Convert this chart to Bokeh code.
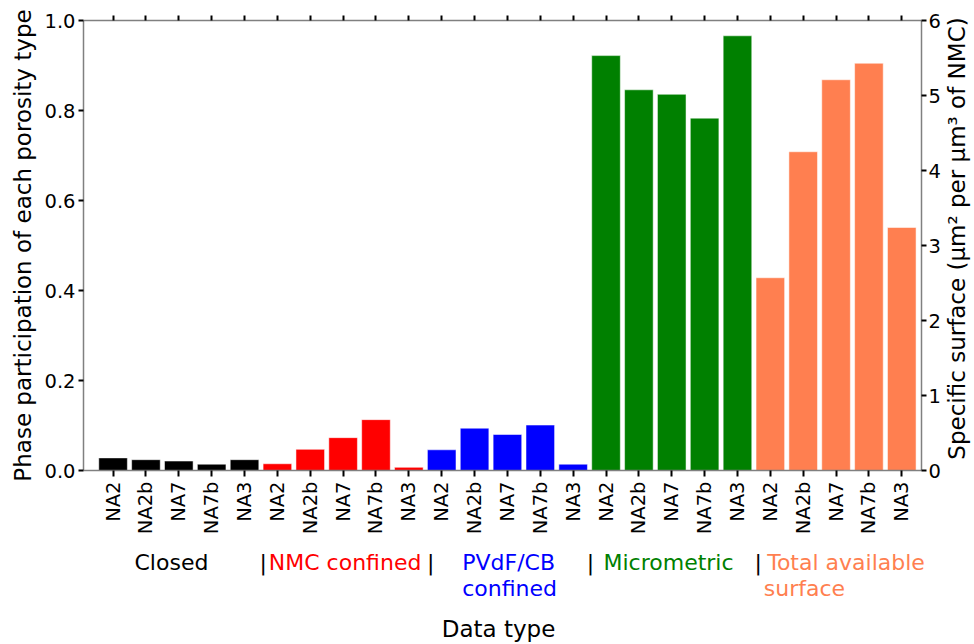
import math
from bokeh.plotting import figure
from bokeh.layouts import column, row
from bokeh.models import (Range1d, LinearAxis, FixedTicker, ColumnDataSource)
from bokeh.core.properties import value
from bokeh.embed import file_html
from bokeh.resources import INLINE

samples = ["NA2", "NA2b", "NA7", "NA7b", "NA3"]
groups = ["Closed", "NMC confined", "PVdF/CB\nconfined", "Micrometric", "Total available\nsurface"]
group_colors = ["black", "red", "blue", "green", "coral"]

closed = [0.028, 0.024, 0.021, 0.014, 0.024]
nmc_confined = [0.015, 0.047, 0.073, 0.113, 0.007]
pvdf_cb_confined = [0.046, 0.094, 0.080, 0.101, 0.014]
micrometric = [0.922, 0.846, 0.836, 0.783, 0.966]
total_surface = [2.57, 4.25, 5.21, 5.43, 3.24]   # right axis, µm² per µm³ of NMC
right_axis_title = "Specific surface (µm² per µm³ of NMC)"
x_axis_title = "Data type"

FONT = "DejaVu Sans"
SPINE = "#808080"
XR = Range1d(-0.9, 24.6)
W, H = 974, 644

# ---------------- main chart ----------------
P_LEFT, P_RIGHT, P_TOP, P_BOTTOM = 83, 22, 20, 70
p = figure(frame_width=838, frame_height=450,
           x_range=XR, y_range=Range1d(0, 1.0),
           output_backend="svg", toolbar_location=None,
           min_border_left=P_LEFT, min_border_right=P_RIGHT, min_border_top=P_TOP,
           min_border_bottom=P_BOTTOM)
p.extra_y_ranges = {"surf": Range1d(0, 6)}
p.xgrid.visible = False
p.ygrid.visible = False
p.outline_line_color = None

left_series = [closed, nmc_confined, pvdf_cb_confined, micrometric]
xs, tops, cols = [], [], []
for g, vals in enumerate(left_series):
    for i, v in enumerate(vals):
        xs.append(g * 5 + i)
        tops.append(v)
        cols.append(group_colors[g])
src = ColumnDataSource(dict(x=xs, top=tops, color=cols))
p.vbar(x="x", top="top", bottom=0, width=0.87, fill_color="color",
       line_color="white", line_alpha=0.5, line_width=1, source=src)

src2 = ColumnDataSource(dict(x=[20 + i for i in range(5)], top=total_surface))
p.vbar(x="x", top="top", bottom=0, width=0.87, fill_color=group_colors[4],
       line_color="white", line_alpha=0.5, line_width=1, source=src2,
       y_range_name="surf")

ticks = list(range(25))
labels = {i: samples[i % 5] for i in ticks}

def style(ax):
    ax.axis_line_color = SPINE
    ax.axis_line_width = 1.5
    ax.major_tick_line_color = "black"
    ax.major_tick_line_width = 2
    ax.major_tick_in = 0
    ax.major_tick_out = 5
    ax.minor_tick_line_color = None
    ax.major_label_text_font = FONT
    ax.major_label_text_font_size = "19.5px"
    ax.major_label_text_color = "black"
    ax.axis_label_text_font = FONT
    ax.axis_label_text_font_size = "23px"
    ax.axis_label_text_font_style = "normal"
    ax.axis_label_text_color = "black"

xa = p.xaxis[0]
style(xa)
xa.ticker = FixedTicker(ticks=ticks)
xa.major_label_overrides = labels
xa.major_label_orientation = math.pi / 2
xa.major_tick_out = 6

ya = p.yaxis[0]
style(ya)
ya.ticker = FixedTicker(ticks=[0, 0.2, 0.4, 0.6, 0.8, 1.0])
ya.major_label_overrides = {0: "0.0", 0.2: "0.2", 0.4: "0.4", 0.6: "0.6", 0.8: "0.8", 1.0: "1.0"}
ya.axis_label = "Phase participation of each porosity type"
ya.major_label_standoff = 3
ya.axis_label_standoff = 5

ra = LinearAxis(y_range_name="surf", ticker=FixedTicker(ticks=[0, 1, 2, 3, 4, 5, 6]))
style(ra)
ra.major_label_standoff = 2
p.add_layout(ra, "right")

ta = LinearAxis(ticker=FixedTicker(ticks=ticks))
style(ta)
ta.major_label_overrides = {i: "" for i in ticks}
ta.major_label_standoff = 0
p.add_layout(ta, "above")

P_W = P_LEFT + 838 + P_RIGHT
P_H = P_TOP + 450 + P_BOTTOM

# ---------------- caption strip: group names and the x-axis title ----------------
CAP_H = H - P_H
c = figure(frame_width=P_W - P_LEFT, frame_height=CAP_H, x_range=Range1d(P_LEFT, P_W),
           y_range=Range1d(0, CAP_H),
           output_backend="svg", toolbar_location=None,
           x_axis_location=None, y_axis_location=None,
           min_border_left=P_LEFT, min_border_right=0, min_border_top=0,
           min_border_bottom=0)
c.xgrid.visible = False
c.ygrid.visible = False
c.outline_line_color = None

def page_y(py):
    return H - py

line1, line2 = page_y(562), page_y(588)
cap_text = [groups[0], groups[1], "PVdF/CB", "confined", groups[3], "Total available", "surface"]
cap_px = [134, 268.3, 461.7, 461.7, 603, 766.7, 763.3]
cap_y = [line1, line1, line1, line2, line1, line1, line2]
cap_col = [group_colors[0], group_colors[1], group_colors[2], group_colors[2],
           group_colors[3], group_colors[4], group_colors[4]]
csrc = ColumnDataSource(dict(x=cap_px, y=cap_y, text=cap_text, color=cap_col))
c.text(x="x", y="y", text="text", text_color="color", source=csrc,
       text_font=value(FONT), text_font_size=value("22px"),
       text_align="left", text_baseline="middle")

sep_px = [262.7, 430.3, 590, 757.7]
ssrc = ColumnDataSource(dict(x=sep_px, y=[line1] * 4, text=["|"] * 4))
c.text(x="x", y="y", text="text", text_color="black", source=ssrc,
       text_font=value(FONT), text_font_size=value("22px"),
       text_align="center", text_baseline="middle")

c.text(x=[498], y=[page_y(628)], text=[x_axis_title], text_color="black",
       text_font=value(FONT), text_font_size=value("23px"),
       text_align="center", text_baseline="middle")

# ---------------- right axis title strip (reads bottom-to-top) ----------------
R_W = W - P_W
r = figure(width=R_W, height=H, x_range=Range1d(0, R_W), y_range=Range1d(0, H),
           output_backend="svg", toolbar_location=None,
           x_axis_location=None, y_axis_location=None, min_border=0)
r.xgrid.visible = False
r.ygrid.visible = False
r.outline_line_color = None
r.text(x=[956 - P_W], y=[H - 238], text=[right_axis_title], angle=math.pi / 2,
       text_font=value(FONT), text_font_size=value("23px"), text_color="black",
       text_align="center", text_baseline="middle")

layout = row(column(p, c, spacing=0), r, spacing=0)
open("out.html", "w").write(file_html(layout, INLINE))
